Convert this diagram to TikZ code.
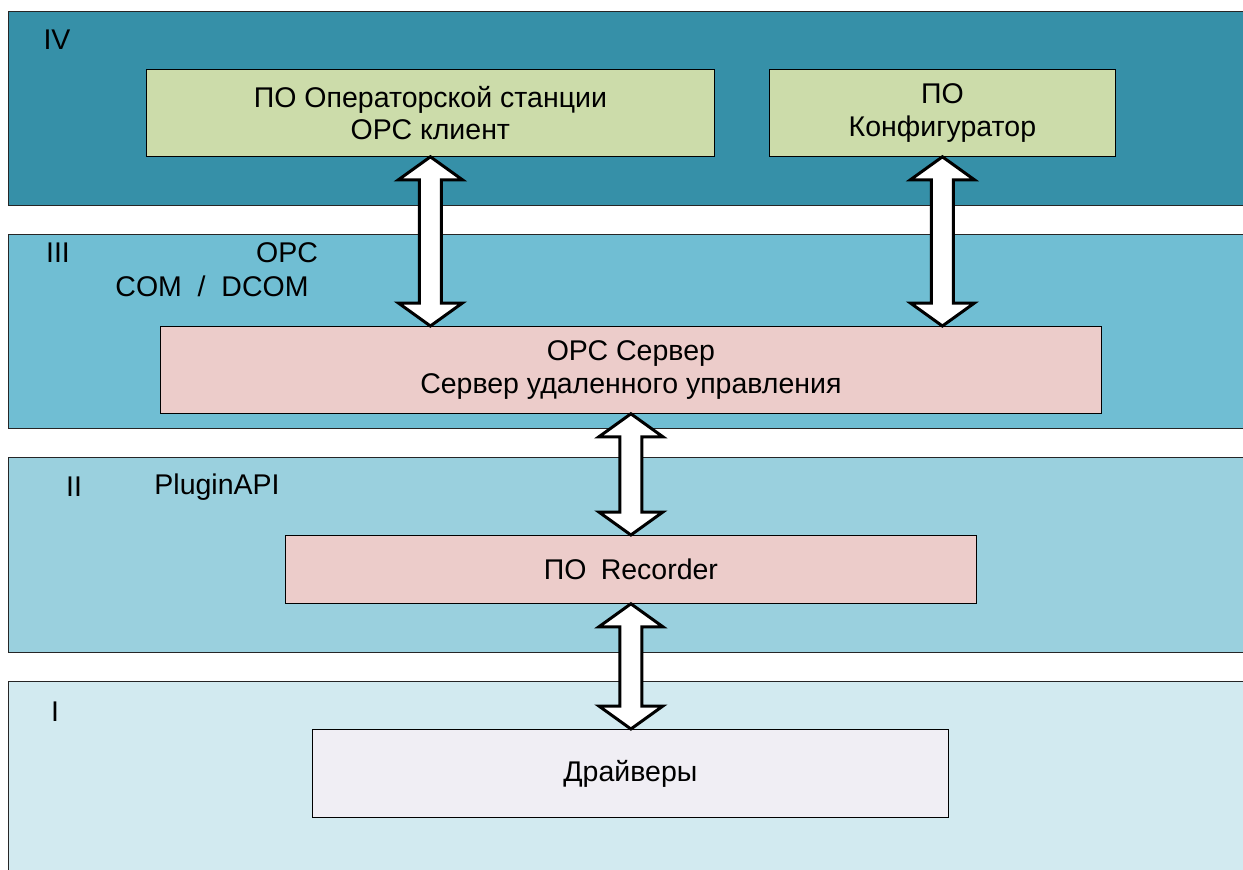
\documentclass[tikz,border=0pt]{standalone}
\usepackage{fontspec}
\setmainfont{Liberation Sans}
\usetikzlibrary{calc}
\definecolor{bandIV}{HTML}{3690A8}
\definecolor{bandIII}{HTML}{70BED3}
\definecolor{bandII}{HTML}{9AD0DE}
\definecolor{bandI}{HTML}{D2EAF0}
\definecolor{greenbox}{HTML}{CCDCAA}
\definecolor{pinkbox}{HTML}{ECCCCA}
\definecolor{lightbox}{HTML}{F0EEF4}
\tikzset{
  band/.style={draw=black!85, line width=0.8pt, anchor=north west, inner sep=0pt},
  box/.style={draw=black, line width=0.8pt, anchor=north west, inner sep=0pt, align=center,
    font=\fontsize{28.5}{32.5}\selectfont},
  lbl/.style={font=\fontsize{28.5}{32.5}\selectfont, inner sep=0pt},
  dblarrow/.style={draw=black, fill=white, line width=3pt, line join=miter},
}
\newcommand\dblarr[2]{%
  \draw[dblarrow] let \p1=(#1), \p2=(#2) in
    (\x1,\y1) -- (\x1+32pt,\y1-23pt) -- (\x1+11pt,\y1-23pt) -- (\x1+11pt,\y2+23pt)
    -- (\x1+32pt,\y2+23pt) -- (\x1,\y2) -- (\x1-32pt,\y2+23pt) -- (\x1-11pt,\y2+23pt)
    -- (\x1-11pt,\y1-23pt) -- (\x1-32pt,\y1-23pt) -- cycle;}
\begin{document}
\begin{tikzpicture}[x=1pt,y=-1pt]
\useasboundingbox (0,0) rectangle (1243,870);
\begin{scope}
\clip (0,0) rectangle (1243,870);
% bands
\node[band, fill=bandIV, minimum width=1300pt, minimum height=194pt] (b4) at (8,11) {};
\node[band, fill=bandIII, minimum width=1300pt, minimum height=194pt] (b3) at (8,234) {};
\node[band, fill=bandII, minimum width=1300pt, minimum height=195pt] (b2) at (8,457) {};
\node[band, fill=bandI, minimum width=1300pt, minimum height=220pt] (b1) at (8,681) {};
\end{scope}
% band labels
\node[lbl] (l4) at (57,40) {IV};
\node[lbl] (l3) at (58,253) {III};
\node[lbl] (opc) at (287,253) {OPC};
\node[lbl] (com) at (212,286) {COM\;\;/\;\;DCOM};
\node[lbl] (l2) at (74,487) {II};
\node[lbl] (api) at (217,487) {PluginAPI};
\node[lbl] (l1) at (55,712) {I};
% boxes
\node[box, fill=greenbox, minimum width=568pt, minimum height=87pt] (op) at (146,69)
  {ПО Операторской станции\\ОРС клиент};
\node[box, fill=greenbox, minimum width=346pt, minimum height=87pt] (cfg) at (769,69)
  {ПО\\Конфигуратор};
\node[box, fill=pinkbox, minimum width=941pt, minimum height=87pt] (srv) at (160,326)
  {ОРС Сервер\\Сервер удаленного управления};
\node[box, fill=pinkbox, minimum width=691pt, minimum height=68pt] (rec) at (285,535)
  {ПО\,\,\,Recorder};
\node[box, fill=lightbox, minimum width=636pt, minimum height=88pt] (drv) at (312,729)
  {Драйверы};
% arrows
\dblarr{op.south}{op.south |- srv.north}
\dblarr{cfg.south}{cfg.south |- srv.north}
\dblarr{rec.north |- srv.south}{rec.north}
\dblarr{rec.south}{rec.south |- drv.north}
\end{tikzpicture}
\end{document}
